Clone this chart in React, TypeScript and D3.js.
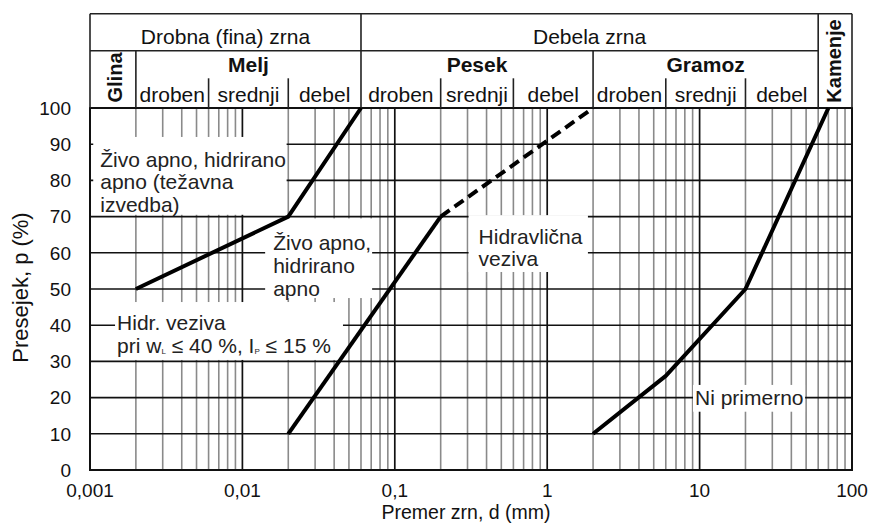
import React from "react";
import * as d3 from "d3";

// grain size chart (log x, percent y)
const yTicks = [0, 10, 20, 30, 40, 50, 60, 70, 80, 90, 100];
const xTickValues = [0.001, 0.01, 0.1, 1, 10, 100];
const xTickLabels = ["0,001", "0,01", "0,1", "1", "10", "100"];

// curves: [d (mm), p (%)]
const curveFine = [[0.002, 50], [0.02, 70], [0.06, 100]];
const curveLime = [[0.02, 10], [0.2, 70]];
const curveLimeDashed = [[0.2, 70], [2, 100]];
const curveCoarse = [[2, 10], [6, 26], [20, 50], [70, 100]];

// header classification
const topGroups = [
  { label: "Drobna (fina) zrna", from: 0.001, to: 0.06 },
  { label: "Debela zrna", from: 0.06, to: 60 },
];
const soilGroups = [
  { label: "Melj", from: 0.002, to: 0.06 },
  { label: "Pesek", from: 0.06, to: 2 },
  { label: "Gramoz", from: 2, to: 60 },
];
const subBounds = [0.002, 0.006, 0.02, 0.06, 0.2, 0.6, 2, 6, 20, 60];
const subLabels = ["droben", "srednji", "debel", "droben", "srednji", "debel", "droben", "srednji", "debel"];

// label boxes: d range, p range (top, bottom), text baselines from box top
const notes = [
  { lines: ["Živo apno, hidrirano", "apno (težavna", "izvedba)"], d: [0.00105, 0.0195], p: [92, 70.5], dx: 7, dy: [30, 52.5, 75] },
  { lines: ["Živo apno,", "hidrirano", "apno"], d: [0.0141, 0.071], p: [69.5, 47.5], dx: 8, dy: [32, 55, 78] },
  { lines: ["Hidravlična", "veziva"], d: [0.305, 1.85], p: [70.4, 54.7], dx: 10, dy: [29, 51] },
  { lines: ["Hidr. veziva", ""], d: [0.00146, 0.0457], p: [46.4, 30.4], dx: 2, dy: [28, 51] },
  { lines: ["Ni primerno"], d: [9.05, 49.2], p: [23.5, 16.1], dx: 2, dy: [20] },
];

const font = "Arial, 'Liberation Sans', sans-serif";

export default function App() {
  const width = 869;
  const height = 523;
  const x = d3.scaleLog().domain([0.001, 100]).range([90, 852]);
  const y = d3.scaleLinear().domain([0, 100]).range([470, 108]);

  const headTop = 13.7;
  const row1 = 50.7;
  const subTop = 78.3;
  const plotTop = y(100);

  const line = d3.line<number[]>().x((d) => x(d[0])).y((d) => y(d[1]));
  const minor = x.ticks();
  const isDecade = (v: number) => Math.abs(Math.log10(v) - Math.round(Math.log10(v))) < 1e-6;

  return (
    <svg width={width} height={height} style={{ position: "absolute", left: 0, top: 0 }} fontFamily={font}>
      <rect width={width} height={height} fill="#fff" />

      {/* grid */}
      {minor.filter((v) => !isDecade(v)).map((v, i) => (
        <line key={"mv" + i} x1={x(v)} x2={x(v)} y1={y(0)} y2={y(100)} stroke="#8a8a8a" strokeWidth={1.6} />
      ))}
      {minor.filter((v) => isDecade(v)).map((v, i) => (
        <line key={"dv" + i} x1={x(v)} x2={x(v)} y1={y(0)} y2={y(100)} stroke="#111" strokeWidth={1.7} />
      ))}
      {yTicks.map((t) => (
        <line key={"h" + t} x1={x(0.001)} x2={x(100)} y1={y(t)} y2={y(t)} stroke="#111" strokeWidth={1.6} />
      ))}

      {/* white label boxes */}
      {notes.map((n, i) => (
        <rect key={"b" + i} x={x(n.d[0])} y={y(n.p[0])} width={x(n.d[1]) - x(n.d[0])} height={y(n.p[1]) - y(n.p[0])} fill="#fff" />
      ))}

      {/* frame */}
      <rect x={x(0.001)} y={y(100)} width={x(100) - x(0.001)} height={y(0) - y(100)} fill="none" stroke="#111" strokeWidth={2} />

      {/* header */}
      <g stroke="#222" strokeWidth={1.6} fill="none">
        <line x1={x(0.001)} x2={x(100)} y1={headTop} y2={headTop} />
        <line x1={x(0.001)} x2={x(0.001)} y1={headTop} y2={plotTop} />
        <line x1={x(100)} x2={x(100)} y1={headTop} y2={plotTop} />
        <line x1={x(0.001)} x2={x(60)} y1={row1} y2={row1} />
        <line x1={x(60)} x2={x(60)} y1={headTop} y2={plotTop} />
        <line x1={x(0.06)} x2={x(0.06)} y1={headTop} y2={plotTop} />
        <line x1={x(0.002)} x2={x(0.002)} y1={row1} y2={plotTop} />
        <line x1={x(2)} x2={x(2)} y1={row1} y2={plotTop} />
        {subBounds.filter((b) => ![0.002, 0.06, 2, 60].includes(b)).map((b, i) => (
          <line key={"sb" + i} x1={x(b)} x2={x(b)} y1={subTop} y2={plotTop} />
        ))}
      </g>
      <g fontSize={21} fill="#111" textAnchor="middle">
        {topGroups.map((g) => (
          <text key={g.label} x={(x(g.from) + x(g.to)) / 2} y={44}>{g.label}</text>
        ))}
        {soilGroups.map((g) => (
          <text key={g.label} x={(x(g.from) + x(g.to)) / 2} y={71.7} fontWeight="bold">{g.label}</text>
        ))}
        {subLabels.map((s, i) => (
          <text key={"sl" + i} x={(x(subBounds[i]) + x(subBounds[i + 1])) / 2} y={101.7}>{s}</text>
        ))}
      </g>
      <text transform={`translate(122,77.5) rotate(-90)`} textAnchor="middle" fontSize={20} fontWeight="bold" fill="#111">Glina</text>
      <text transform={`translate(840.7,61) rotate(-90)`} textAnchor="middle" fontSize={20} fontWeight="bold" fill="#111">Kamenje</text>

      {/* curves */}
      <g fill="none" stroke="#000" strokeWidth={4} strokeLinejoin="round">
        <path d={line(curveFine) || ""} />
        <path d={line(curveLime) || ""} />
        <path d={line(curveLimeDashed) || ""} strokeDasharray="11,6" strokeLinejoin="miter" />
        <path d={line(curveCoarse) || ""} />
      </g>

      {/* labels */}
      <g fontSize={21} fill="#222" style={{ whiteSpace: "pre" }}>
        {notes.map((n, i) =>
          n.lines.map((l, j) =>
            l ? (
              <text key={"t" + i + "-" + j} x={x(n.d[0]) + n.dx} y={y(n.p[0]) + n.dy[j]}>{l}</text>
            ) : null
          )
        )}
        <text x={x(notes[3].d[0]) + notes[3].dx} y={y(notes[3].p[0]) + notes[3].dy[1]}>
          pri w<tspan fontSize={8} dy={1}>L</tspan><tspan dy={-1}> ≤ 40 %, I</tspan><tspan fontSize={8} dy={1}>P</tspan><tspan dy={-1}> ≤ 15 %</tspan>
        </text>
      </g>

      {/* axes labels */}
      <g fontSize={19} fill="#111">
        {yTicks.map((t) => (
          <text key={"yl" + t} x={71} y={y(t)} dy="0.36em" textAnchor="end">{t}</text>
        ))}
        {xTickValues.map((v, i) => (
          <text key={"xl" + i} x={x(v)} y={496.5} textAnchor="middle">{xTickLabels[i]}</text>
        ))}
      </g>
      <text x={466} y={519} textAnchor="middle" fontSize={19.5} fill="#111">Premer zrn, d (mm)</text>
      <text transform={`translate(28,287.5) rotate(-90)`} textAnchor="middle" fontSize={22} fill="#111">Presejek, p (%)</text>
    </svg>
  );
}
